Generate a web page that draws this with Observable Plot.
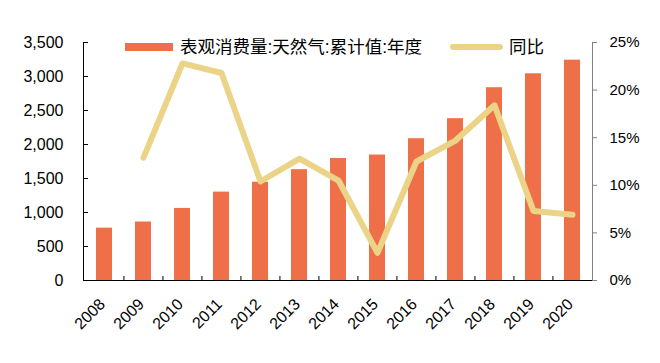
<!DOCTYPE html>
<html>
<head>
<meta charset="utf-8">
<script src="https://cdn.jsdelivr.net/npm/d3@7"></script>
<script src="https://cdn.jsdelivr.net/npm/@observablehq/plot@0.6"></script>
<style>
  html, body { margin: 0; padding: 0; background: #fff; }
  #wrap { position: relative; width: 660px; height: 363px; }
  #legend { position: absolute; left: 0; top: 0; width: 660px; height: 60px; font-family: "Liberation Sans", "Noto Sans CJK SC", sans-serif; font-size: 17.5px; color: #000; }
  .sw { position: absolute; }
  .lt { position: absolute; top: 36px; line-height: 22px; white-space: nowrap; }
</style>
</head>
<body>
<div id="wrap">
  <div id="chart"></div>
  <div id="legend">
    <div class="sw" style="left:125px; top:43px; width:48px; height:8px; background:#EF6F48;"></div>
    <div class="lt" style="left:180px;">表观消费量:天然气:累计值:年度</div>
    <div class="sw" style="left:450px; top:44px; width:53px; height:6px; border-radius:3px; background:#EBD487;"></div>
    <div class="lt" style="left:509px;">同比</div>
  </div>
</div>
<script>
const years = ["2008","2009","2010","2011","2012","2013","2014","2015","2016","2017","2018","2019","2020"];
const consumption = [770, 860, 1060, 1300, 1445, 1630, 1795, 1845, 2085, 2380, 2835, 3040, 3240];
const yoy = [null, 12.9, 22.8, 21.8, 10.4, 12.8, 10.5, 2.9, 12.5, 14.7, 18.4, 7.3, 6.9];
const leftTicks = [0, 500, 1000, 1500, 2000, 2500, 3000, 3500];
const rightTicks = [0, 5, 10, 15, 20, 25];

const yMax = 3500, pctMax = 25, k = yMax / pctMax;
const data = years.map((y, i) => ({year: y, value: consumption[i], yoy: yoy[i]}));

const W = 660, H = 363, mL = 83, mR = 68, mT = 42, mB = 83;
const step = (W - mL - mR) / years.length;
const tickLen = 4 / (H - mT - mB) * yMax;

const chart = Plot.plot({
  width: W, height: H,
  marginLeft: mL, marginRight: mR, marginTop: mT, marginBottom: mB,
  style: {fontFamily: "Liberation Sans, Arial, sans-serif", fontSize: "16px", color: "#000", background: "#fff"},
  x: {type: "band", domain: years, paddingInner: 0.6, paddingOuter: 0.3, label: null},
  y: {domain: [0, yMax], label: null},
  marks: [
    Plot.barY(data, {x: "year", y: "value", fill: "#EF6F48"}),
    Plot.line(data, {x: "year", y: d => d.yoy == null ? NaN : d.yoy * k, stroke: "#EBD487", strokeWidth: 6, strokeLinecap: "round", strokeLinejoin: "round"}),
    Plot.ruleY([0], {stroke: "#000", strokeWidth: 1}),
    Plot.frame({anchor: "left", stroke: "#000"}),
    Plot.frame({anchor: "right", stroke: "#808080"}),
    Plot.tickY(leftTicks, {y: d => d, stroke: "#000", insetRight: W - mL - mR - 5}),
    Plot.ruleX(years.slice(1), {x: d => d, y1: 0, y2: tickLen, dx: -step / 2, stroke: "#000"}),
    Plot.axisY(leftTicks, {anchor: "left", tickSize: 0, tickPadding: 20, tickFormat: d3.format(","), fontSize: 16, label: null}),
    Plot.axisY(rightTicks.map(d => d * k), {anchor: "right", tickSize: 4, stroke: "#808080", tickPadding: 13, tickFormat: d => d / k + "%", fontSize: 15, label: null}),
    Plot.axisX({anchor: "bottom", tickSize: 0, tickRotate: -45, tickPadding: 21, dx: -2, fontSize: 16, label: null})
  ]
});
document.getElementById("chart").appendChild(chart);
</script>
</body>
</html>
